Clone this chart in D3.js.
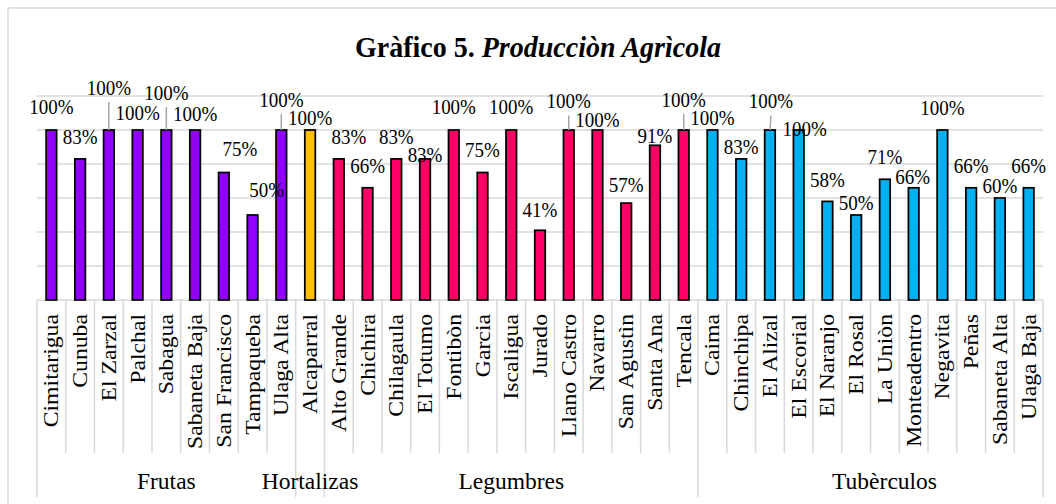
<!DOCTYPE html>
<html>
  <head>
    <meta charset="utf-8">
    <style type="text/css">
      body { margin: 0; background: #fff; }
      text { font-family: "Liberation Serif", "Times New Roman", serif; fill: #000; }
    </style>
  </head>
  <body>
    <div id="chart"></div>
    <script src="https://cdn.jsdelivr.net/npm/d3@7"></script>
    <script>
      const categories = [
        "Cimitarigua", "Cunuba", "El Zarzal", "Palchal", "Sabagua", "Sabaneta Baja", "San Francisco", "Tampaqueba", "Ulaga Alta",
        "Alcaparral",
        "Alto Grande", "Chichira", "Chilagaula", "El Totumo", "Fontibòn", "Garcia", "Iscaligua", "Jurado", "Llano Castro", "Navarro", "San Agustìn", "Santa Ana", "Tencala",
        "Caima", "Chinchipa", "El Alizal", "El Escorial", "El Naranjo", "El Rosal", "La Uniòn", "Monteadentro", "Negavita", "Peñas", "Sabaneta Alta", "Ulaga Baja"
      ];
      const groupNames = ["Frutas", "Hortalizas", "Legumbres", "Tubèrculos"];
      const groupSizes = [9, 1, 13, 12];
      const groupColors = ["#9100ff", "#ffc000", "#ff0066", "#00b0f0"];
      const values = [
        1, 0.83, 1, 1, 1, 1, 0.75, 0.5, 1,
        1,
        0.83, 0.66, 0.83, 0.83, 1, 0.75, 1, 0.41, 1, 1, 0.57, 0.91, 1,
        1, 0.83, 1, 1, 0.58, 0.5, 0.71, 0.66, 1, 0.66, 0.6, 0.66
      ];
      const yTicks = [0, 0.2, 0.4, 0.6, 0.8, 1, 1.2];
      // labels that were dragged around in the original (px offsets from default spot)
      const labelNudge = [
        [0, -5], [0, -4], [0, -24], [0, 1], [0, -19], [0, 2], [16, -5.5], [14, -7], [0, -12],
        [0, 6],
        [10, -4], [0, -4], [0, -3.5], [0, 14], [0, -5], [0, -4.5], [0, -5], [0, -2], [0, -10.5], [0, 8], [0, 0], [0, 9], [0, -12],
        [0, 6.5], [0, 6.5], [1, -10.5], [6, 17], [0, -3.5], [0, 6.5], [0, -4.5], [-1, 7], [0, -3.5], [0, -4], [0, 6.5], [0, -4]
      ];
      const groupNudge = [0, 0, 0, 14];

      const width = 1056, height = 504;
      const plotLeft = 37, plotRight = 1043, plotTop = 96, plotBase = 300;

      // group index for each category
      const groupOf = [];
      groupSizes.forEach((n, g) => { for (let i = 0; i < n; i += 1) groupOf.push(g); });

      const svg = d3.select("#chart").append("svg")
        .attr("width", width)
        .attr("height", height);

      // chart border
      svg.append("rect")
        .attr("x", 8).attr("y", 8)
        .attr("width", 1100).attr("height", 600)
        .attr("fill", "none")
        .attr("stroke", "#d9d9d9")
        .attr("stroke-width", 1.5);

      const x = d3.scaleBand()
        .domain(categories)
        .range([plotLeft, plotRight])
        .paddingInner(0.635)
        .paddingOuter(0.3175);
      const step = x.step();
      const y = d3.scaleLinear().domain([0, 1.2]).range([plotBase, plotTop]);

      // gridlines
      svg.append("g").selectAll("line").data(yTicks.slice(1)).enter().append("line")
        .attr("x1", plotLeft).attr("x2", plotRight)
        .attr("y1", (d) => y(d)).attr("y2", (d) => y(d))
        .attr("stroke", "#d9d9d9")
        .attr("stroke-width", 1.5);

      // axis line
      svg.append("line")
        .attr("x1", plotLeft).attr("x2", plotRight)
        .attr("y1", plotBase).attr("y2", plotBase)
        .attr("stroke", "#d9d9d9")
        .attr("stroke-width", 1.5);

      // category separators
      const bounds = d3.range(categories.length + 1);
      const groupStarts = [0];
      groupSizes.forEach((n, g) => groupStarts.push(groupStarts[g] + n));
      svg.append("g").selectAll("line").data(bounds).enter().append("line")
        .attr("x1", (i) => plotLeft + i * step).attr("x2", (i) => plotLeft + i * step)
        .attr("y1", plotBase)
        .attr("y2", (i) => groupStarts.includes(i) ? 497 : 453)
        .attr("stroke", "#d9d9d9")
        .attr("stroke-width", 1.5);

      // bars
      svg.append("g").selectAll("rect").data(values).enter().append("rect")
        .attr("x", (d, i) => x(categories[i]))
        .attr("y", (d) => y(d))
        .attr("width", x.bandwidth())
        .attr("height", (d) => plotBase - y(d))
        .attr("fill", (d, i) => groupColors[groupOf[i]])
        .attr("stroke", "#000")
        .attr("stroke-width", 1.75);

      // data labels
      const fmt = d3.format(".0%");
      const labels = values.map((v, i) => {
        const bx = x(categories[i]) + x.bandwidth() / 2;
        const cy = y(v) - 18 + labelNudge[i][1];
        return { v, bx, barTop: y(v), cx: bx + labelNudge[i][0], cy, leader: labelNudge[i][1] <= -10 };
      });

      svg.append("g").selectAll("line").data(labels.filter((d) => d.leader)).enter().append("line")
        .attr("x1", (d) => d.cx).attr("y1", (d) => d.cy + 14)
        .attr("x2", (d) => d.bx).attr("y2", (d) => d.barTop)
        .attr("stroke", "#a6a6a6")
        .attr("stroke-width", 1.5);

      svg.append("g").selectAll("text").data(labels).enter().append("text")
        .attr("transform", (d) => `translate(${d.cx},${d.cy + 6.7}) scale(1,1.07)`)
        .attr("text-anchor", "middle")
        .style("font-size", "19px")
        .text((d) => fmt(d.v));

      // category labels
      svg.append("g").selectAll("text").data(categories).enter().append("text")
        .attr("transform", (d) => `translate(${x(d) + x.bandwidth() / 2 + 7},314) rotate(-90) scale(1.13,1)`)
        .attr("text-anchor", "end")
        .style("font-size", "21px")
        .text((d) => d);

      // group labels
      svg.append("g").selectAll("text").data(groupNames).enter().append("text")
        .attr("x", (d, g) => plotLeft + (groupStarts[g] + groupSizes[g] / 2) * step + groupNudge[g])
        .attr("y", 489)
        .attr("text-anchor", "middle")
        .style("font-size", "23.5px")
        .text((d) => d);

      // title
      const title = svg.append("text")
        .attr("transform", "translate(538,57) scale(1,1.08)")
        .attr("text-anchor", "middle")
        .style("font-size", "28px")
        .style("font-weight", "bold");
      title.append("tspan").text("Gràfico 5. ");
      title.append("tspan").style("font-style", "italic").text("Producciòn Agrìcola");
    </script>
  </body>
</html>
